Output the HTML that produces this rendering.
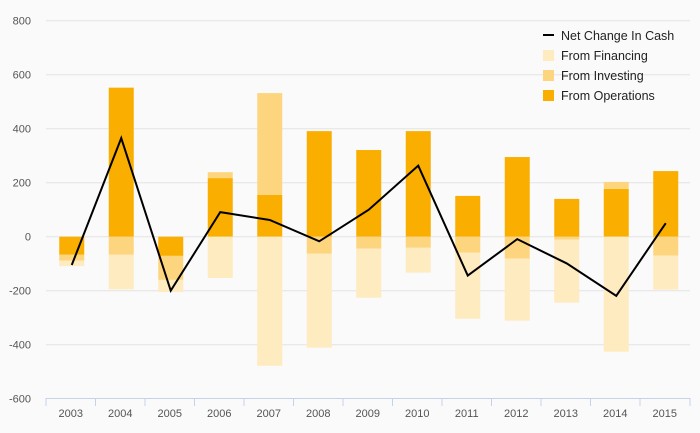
<!DOCTYPE html>
<html><head><meta charset="utf-8"><style>
body{margin:0;background:#fafafa;}
svg{display:block;font-family:"Liberation Sans",sans-serif;}
</style></head><body>
<svg id="chart" width="700" height="433">
<rect width="700" height="433" fill="#fafafa"/>
<g id="grid"></g><g id="bars"></g><g id="line"></g><g id="axes"></g>
<g id="legend" font-size="12.5" fill="#222">
 <g><line x1="543" y1="35" x2="554" y2="35" stroke="#000" stroke-width="2"/><text x="561" y="40">Net Change In Cash</text></g>
 <g><rect x="543" y="50" width="11" height="11" fill="#feebc0"/><text x="561" y="60">From Financing</text></g>
 <g><rect x="543" y="70" width="11" height="11" fill="#fdd57e"/><text x="561" y="80">From Investing</text></g>
 <g><rect x="543" y="90" width="11" height="11" fill="#f9ae00"/><text x="561" y="100">From Operations</text></g>
</g>
</svg>
<script>
const years=["2003","2004","2005","2006","2007","2008","2009","2010","2011","2012","2013","2014","2015"];
const operations=[-67,552,-71,217,155,391,321,391,151,295,140,177,243];
const investing=[-22,-67,-89,22,377,-63,-44,-41,-59,-81,-11,26,-70];
const financing=[-20,-128,-45,-153,-478,-348,-182,-92,-245,-230,-233,-426,-126];
const netChange=[-105,365,-200,91,62,-17,100,263,-144,-9,-99,-219,50];
const yTicks=[800,600,400,200,0,-200,-400,-600];
const NS="http://www.w3.org/2000/svg";
const x0=46,step=49.5,bw=25;
const y=v=>236.7-v*0.27;
const xc=i=>x0+step*(i+0.5);
const bx=i=>xc(i)+1;
function mk(t,a,p){const e=document.createElementNS(NS,t);for(const k in a)e.setAttribute(k,a[k]);p.appendChild(e);return e;}
const G=document.getElementById('grid'),B=document.getElementById('bars'),L=document.getElementById('line'),A=document.getElementById('axes');
yTicks.forEach(t=>{
 if(t>-600){const l=mk('line',{x1:46,x2:690,y1:y(t),y2:y(t),stroke:'#e3e3e3','stroke-width':1},G);
 
 }
 const tx=mk('text',{x:31,y:y(t)+4,'text-anchor':'end','font-size':11,fill:'#555'},A);tx.textContent=t;
 
 
});
mk('line',{x1:46,x2:690,y1:398.5,y2:398.5,stroke:'#c5d3ea'},A);
const series=[[operations,'#f9ae00','operations'],[investing,'#fdd57e','investing'],[financing,'#feebc0','financing']];
years.forEach((yr,i)=>{
 let pos=0,neg=0;
 series.forEach(([arr,c,n])=>{
  const v=arr[i];let a,b;
  if(v>=0){a=pos;b=pos+v;pos=b;}else{a=neg;b=neg+v;neg=b;}
  const r=mk('rect',{x:bx(i)-bw/2,width:bw,y:Math.min(y(a),y(b)),height:Math.abs(y(a)-y(b)),fill:c},B);
  
  
 });
 const tk=mk('line',{x1:x0+step*i,x2:x0+step*i,y1:398,y2:406,stroke:'#c5d3ea'},A);
 
 
 const t=mk('text',{x:xc(i),y:417,'text-anchor':'middle','font-size':11,fill:'#555'},A);t.textContent=yr;
 
 
});
mk('line',{x1:690,x2:690,y1:398,y2:406,stroke:'#c5d3ea'},A);
const pl=mk('polyline',{points:netChange.map((v,i)=>bx(i)+','+y(v)).join(' '),fill:'none',stroke:'#000','stroke-width':2},L);


</script>
</body></html>
